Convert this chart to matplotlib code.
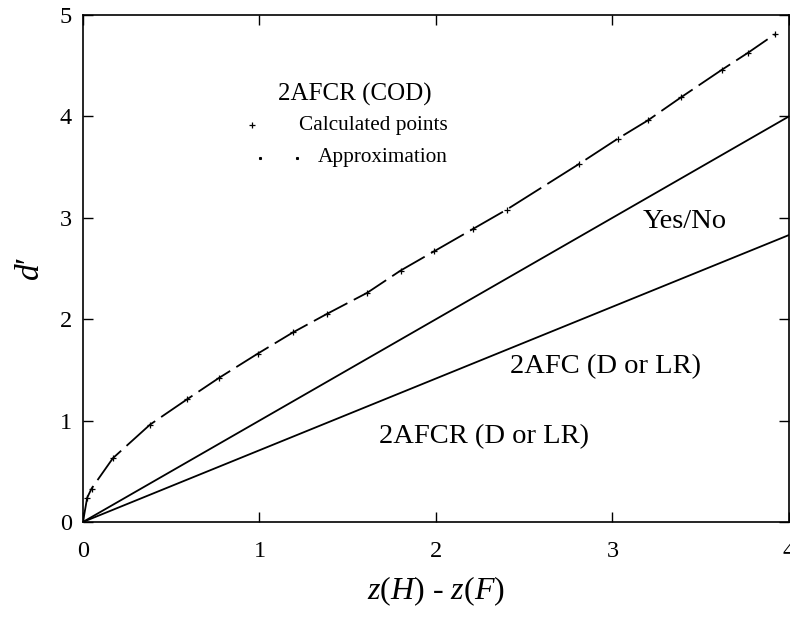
import matplotlib
matplotlib.use("Agg")
import matplotlib.pyplot as plt

plt.rcParams["font.family"] = ["Liberation Serif", "DejaVu Serif"]
plt.rcParams["mathtext.fontset"] = "custom"
plt.rcParams["mathtext.it"] = "Liberation Serif:italic"
plt.rcParams["mathtext.rm"] = "Liberation Serif"

# straight reference lines
line_x = [0.0, 4.0]
yesno_y = [0.0, 4.0]
afc_y = [0.0, 2.83]

# 2AFCR (COD) curve
cod_x = [0.0, 0.024, 0.049, 0.17, 0.38, 0.59, 0.77, 0.99, 1.19, 1.38, 1.61,
         1.80, 1.99, 2.21, 2.40, 2.81, 3.03, 3.20, 3.39, 3.62, 3.77, 3.92]
cod_y = [0.0, 0.24, 0.33, 0.63, 0.96, 1.21, 1.42, 1.66, 1.87, 2.05, 2.26,
         2.48, 2.67, 2.89, 3.08, 3.53, 3.78, 3.96, 4.19, 4.46, 4.63, 4.81]

x_ticks = [0, 1, 2, 3, 4]
y_ticks = [0, 1, 2, 3, 4, 5]

fig = plt.figure(figsize=(7.9, 6.17), dpi=100)
ax = fig.add_axes([0.105, 0.154, 0.8937, 0.8217])

lw = 1.3
ax.plot(line_x, yesno_y, color="black", lw=lw)
ax.plot(line_x, afc_y, color="black", lw=lw)
ax.plot(cod_x, cod_y, color="black", lw=lw, dashes=(21, 4))
ax.plot(cod_x[1:], cod_y[1:], linestyle="none", marker="+", color="black",
        markersize=5, mew=0.9)

ax.set_xlim(0, 4)
ax.set_ylim(0, 5)
ax.set_xticks(x_ticks)
ax.set_yticks(y_ticks)
ax.tick_params(direction="in", length=7, width=1, labelsize=17.5,
               top=True, right=True)
ax.tick_params(axis="x", pad=14)
ax.tick_params(axis="y", pad=8)
for s in ax.spines.values():
    s.set_linewidth(1.2)

ax.set_xlabel("$z$($H$) - $z$($F$)", fontsize=23, labelpad=9)
ax.set_ylabel("$d$′", fontsize=24, labelpad=10)

# curve labels
ax.text(3.17, 2.96, "Yes/No", fontsize=20.5, va="center")
ax.text(2.42, 1.53, "2AFC (D or LR)", fontsize=20.5, va="center")
ax.text(1.68, 0.84, "2AFCR (D or LR)", fontsize=20.5, va="center")

# key
ax.text(0.276, 0.844, "2AFCR (COD)", fontsize=18, va="center", transform=ax.transAxes)
ax.text(0.517, 0.783, "Calculated points", fontsize=15.3, va="center", ha="right",
        transform=ax.transAxes)
ax.text(0.517, 0.718, "Approximation", fontsize=15.3, va="center", ha="right",
        transform=ax.transAxes)
ax.plot([0.239], [0.783], marker="+", color="black", markersize=5, mew=0.9,
        transform=ax.transAxes)
ax.plot([0.251, 0.303], [0.718, 0.718], linestyle="none", marker="s", color="black",
        markersize=1.2, transform=ax.transAxes)

fig.savefig("out.png", dpi=100)
